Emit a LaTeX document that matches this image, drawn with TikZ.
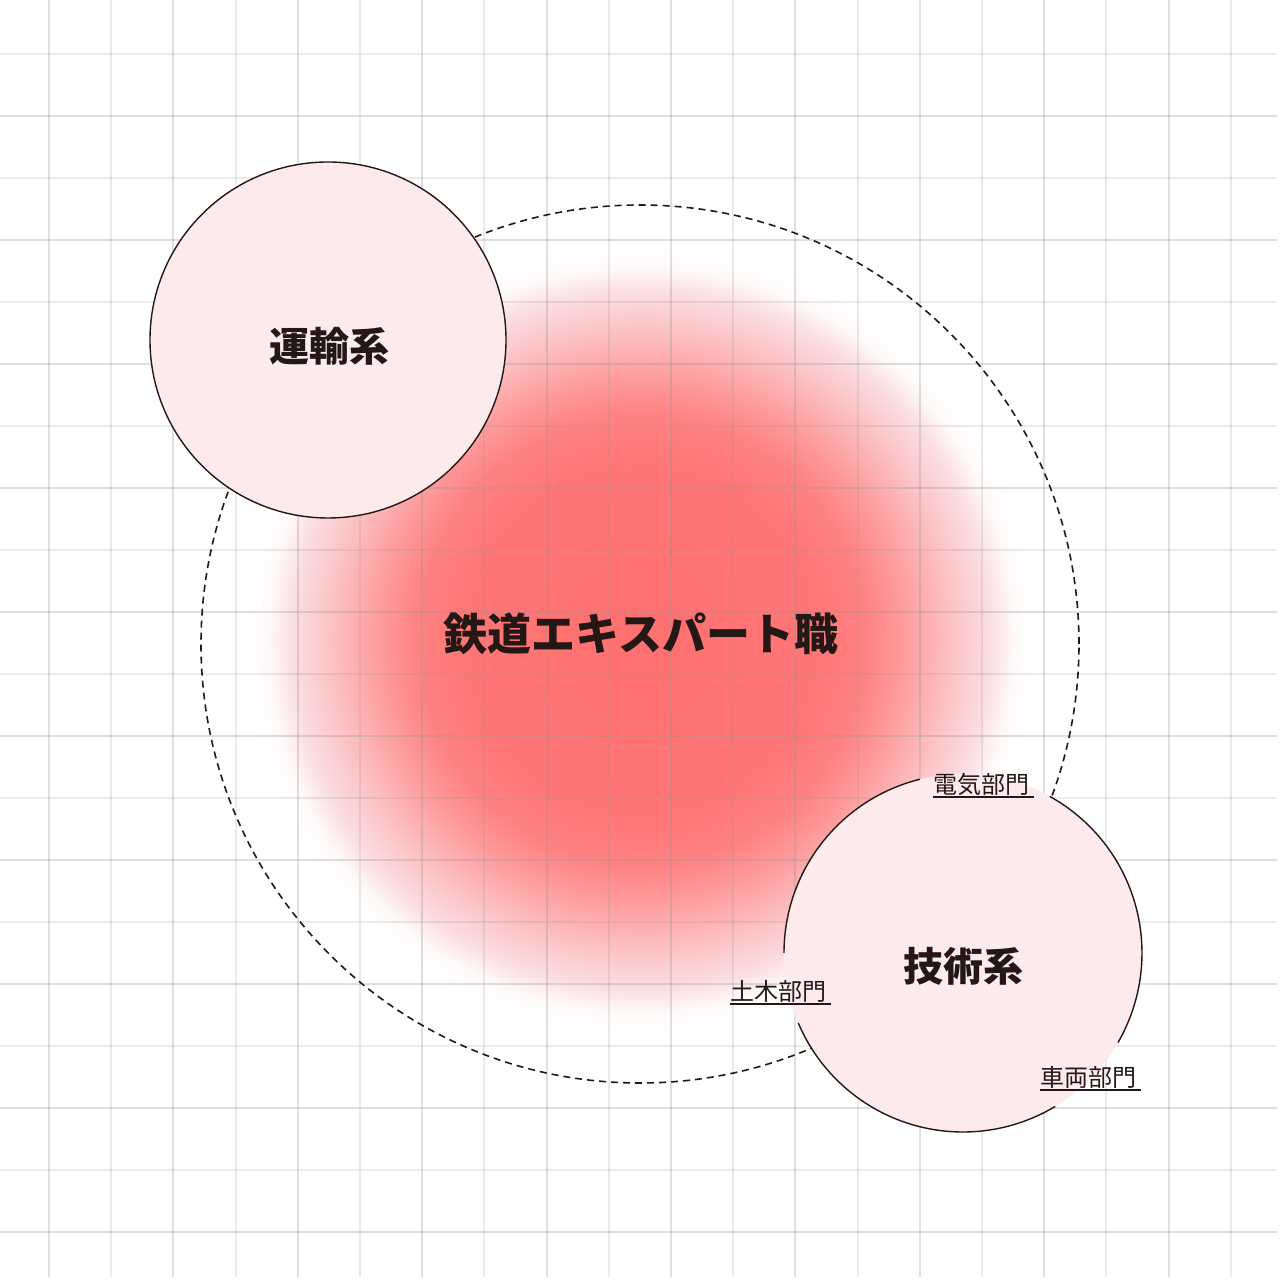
\documentclass[tikz,border=0pt]{standalone}
\usepackage{fontspec}
\newfontfamily\jpfont{Noto Sans CJK JP}
\usepackage{tikz}
\usetikzlibrary{positioning}
\usepackage{xcolor}
\definecolor{jtred}{RGB}{255,112,112}
\definecolor{jtfade}{RGB}{250,240,243}
\definecolor{jtpink}{RGB}{253,235,235}
\definecolor{jtink}{RGB}{35,24,21}
\definecolor{jtgrid}{RGB}{150,150,150}
\pgfdeclareradialshading{redblob}{\pgfpoint{0bp}{0bp}}{color(0bp)=(jtred); color(11bp)=(jtred!96!white); color(14bp)=(jtred!86!jtfade); color(16bp)=(jtred!70!jtfade); color(18bp)=(jtred!50!jtfade); color(20bp)=(jtred!30!jtfade); color(21.8bp)=(jtred!14!jtfade); color(23.3bp)=(jtred!4!white); color(24.6bp)=(white); color(50bp)=(white)}
\tikzstyle{gridline} = [line width=1pt, color=jtgrid, opacity=0.3]
\tikzstyle{gridlight} = [line width=1pt, color=jtgrid, opacity=0.2]
\tikzstyle{bubble} = [circle, draw=jtink, line width=0.7pt, fill=jtpink, inner sep=0pt, outer sep=0pt]
\tikzstyle{ringline} = [draw=jtink, line width=0.7pt]
\tikzstyle{mainlabel} = [font={\jpfont\bfseries\fontsize{20}{24}\selectfont}, text=jtink]
\tikzstyle{sublabel} = [font={\jpfont\fontsize{12}{14}\selectfont}, text=jtink, anchor=south west, inner xsep=0pt, inner ysep=0.6pt, text width=50pt, align=left]
\tikzstyle{underline} = [draw=jtink, line width=1pt]

\begin{document}
\begin{tikzpicture}[x=0.5pt, y=0.5pt]
\useasboundingbox (0,0) rectangle (1280,1280);
\fill[white] (0,0) rectangle (1280,1280);

% Red blob in the middle
\shade[shading=redblob] (641,640) circle[radius=400];

% Grid
\foreach \i in {0,2,...,18} {
  \draw[gridline] ({49+62.2*\i},3) -- ({49+62.2*\i},1280);
  \draw[gridlight] (0,{1225.7-62*\i}) -- (1277,{1225.7-62*\i});
}
\foreach \i in {1,3,...,19} {
  \draw[gridlight] ({49+62.2*\i},3) -- ({49+62.2*\i},1280);
  \draw[gridline] (0,{1225.7-62*\i}) -- (1277,{1225.7-62*\i});
}

% Dashed outer ring
\node (ring) [circle, draw=jtink, line width=0.8pt, dash pattern=on 3.5pt off 2.5pt, minimum size=439pt, inner sep=0pt] at (640,636) {};

% Center label
\node (expert) [mainlabel, font={\jpfont\bfseries\fontsize{22}{26}\selectfont}] at (641,646) {鉄道エキスパート職};

% Transport bubble
\node (unyu) [bubble, minimum size=178pt] at (328,940) {};
\node (unyulabel) [mainlabel] at (329,934) {運輸系};

% Engineering bubble, outline broken at the labels
\node (gijutsu) [circle, fill=jtpink, minimum size=179pt, inner sep=0pt] at (963,327) {};
\draw[ringline] (gijutsu.center) ++(-30:179) arc[start angle=-30, end angle=61, radius=179];
\draw[ringline] (gijutsu.center) ++(203:179) arc[start angle=203, end angle=301, radius=179];
\draw[ringline] (gijutsu.center) ++(104:179) arc[start angle=104, end angle=180, radius=179];
\node (gijutsulabel) [mainlabel] at (963,314) {技術系};

% Departments
\node (denki) [sublabel] at (933,483) {電気部門};
\draw[underline] (denki.south west) -- (denki.south east);
\node (doboku) [sublabel] at (730,276) {土木部門};
\draw[underline] (doboku.south west) -- (doboku.south east);
\node (sharyo) [sublabel] at (1040,190) {車両部門};
\draw[underline] (sharyo.south west) -- (sharyo.south east);
\end{tikzpicture}
\end{document}
